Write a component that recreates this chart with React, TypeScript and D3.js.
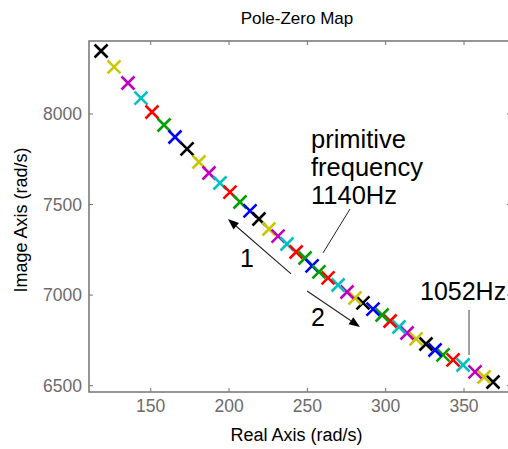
import React from "react";
import * as d3 from "d3";

// ---- data ----
const colorCycle = ["#000000", "#c8c800", "#bf00bf", "#00c0c0", "#ff0000", "#00a000", "#0000ff"];
// branch 1: from top-left going down
const branch1Real = [118.3, 126.6, 135.5, 143.8, 150.8, 158.5, 165.5, 173.2, 180.8, 187.2, 194.2, 200.6, 207.0, 213.4, 219.1, 225.5, 231.3, 237.0, 242.8, 248.5, 253.0];
const branch1Imag = [8348, 8260, 8171, 8088, 8011, 7939, 7873, 7807, 7735, 7674, 7619, 7569, 7514, 7465, 7420, 7365, 7326, 7282, 7238, 7205, 7161];
// branch 2: from bottom-right going up
const branch2Real = [368.5, 362.8, 357.0, 349.4, 343.0, 336.6, 331.5, 325.7, 319.4, 313.6, 308.5, 302.8, 297.7, 291.9, 285.5, 280.4, 275.3, 269.6, 263.2, 257.4];
const branch2Imag = [6520, 6548, 6576, 6614, 6642, 6670, 6697, 6730, 6758, 6791, 6824, 6857, 6890, 6923, 6957, 6984, 7017, 7056, 7095, 7128];

const xTicks = [150, 200, 250, 300, 350];
const yTicks = [6500, 7000, 7500, 8000];
const xDomain = [110.6, 380];
const yDomain = [6465, 8403];

const title = "Pole-Zero Map";
const xLabel = "Real Axis (rad/s)";
const yLabel = "Image Axis (rad/s)";

export default function App() {
  const W = 508, H = 449;
  const left = 89, top = 41, bottom = 392;
  const x = d3.scaleLinear().domain(xDomain).range([left, left + (xDomain[1] - xDomain[0]) * 1.5665]);
  const y = d3.scaleLinear().domain(yDomain).range([bottom, top]);
  const right = x(xDomain[1]);

  const pts: { re: number; im: number; c: string }[] = [];
  branch1Real.forEach((re, i) => pts.push({ re, im: branch1Imag[i], c: colorCycle[i % 7] }));
  branch2Real.forEach((re, i) => pts.push({ re, im: branch2Imag[i], c: colorCycle[i % 7] }));

  const s = 6.5;
  const font = "'Liberation Sans', Arial, Helvetica, sans-serif";
  const axisColor = "#737373";
  const tickColor = "#6b6b6b";

  const arrow = (x1: number, y1: number, x2: number, y2: number) => {
    const ang = Math.atan2(y2 - y1, x2 - x1);
    const L = 11, w = 4.2;
    const bx = x2 - L * Math.cos(ang), by = y2 - L * Math.sin(ang);
    const px = -Math.sin(ang) * w, py = Math.cos(ang) * w;
    return (
      <g>
        <line x1={x1} y1={y1} x2={bx} y2={by} stroke="#222" strokeWidth={1.1} />
        <path d={`M${x2},${y2}L${bx + px},${by + py}L${bx - px},${by - py}Z`} fill="#000" />
      </g>
    );
  };

  return (
    <svg width={W} height={H} style={{ position: "absolute", left: 0, top: 0, background: "#fff" }} fontFamily={font}>
      <rect width={W} height={H} fill="#fff" />
      {/* title */}
      <text x={297} y={24} textAnchor="middle" fontSize={17} fill="#000">{title}</text>
      {/* axes box */}
      <rect x={left} y={top} width={right - left} height={bottom - top} fill="none" stroke={axisColor} strokeWidth={1.5} />
      {xTicks.map((t) => (
        <g key={"x" + t}>
          <line x1={x(t)} x2={x(t)} y1={bottom} y2={bottom - 4} stroke={axisColor} strokeWidth={1} />
          <line x1={x(t)} x2={x(t)} y1={top} y2={top + 4} stroke={axisColor} strokeWidth={1} />
          <text x={x(t)} y={412} textAnchor="middle" fontSize={17.5} fill={tickColor}>{t}</text>
        </g>
      ))}
      {yTicks.map((t) => (
        <g key={"y" + t}>
          <line x1={left} x2={left + 4} y1={y(t)} y2={y(t)} stroke={axisColor} strokeWidth={1} />
          <line x1={right} x2={right - 4} y1={y(t)} y2={y(t)} stroke={axisColor} strokeWidth={1} />
          <text x={82} y={y(t) + 6} textAnchor="end" fontSize={17.5} fill={tickColor}>{t}</text>
        </g>
      ))}
      <text x={296.5} y={441} textAnchor="middle" fontSize={18} fill="#000">{xLabel}</text>
      <text transform={`translate(27,${220}) rotate(-90)`} textAnchor="middle" fontSize={18} fill="#000">{yLabel}</text>

      {/* annotations */}
      <line x1={x(277.2)} y1={y(7475)} x2={x(260)} y2={y(7233)} stroke="#222" strokeWidth={1} />
      <line x1={x(353.2)} y1={y(6918)} x2={x(353.2)} y2={y(6669)} stroke="#444" strokeWidth={1} />
      {arrow(x(239.6), y(7117), x(199.3), y(7420))}
      {arrow(x(249.8), y(7023), x(283.6), y(6824))}
      <text fontSize={25.5} fill="#000">
        <tspan x={311} y={148}>primitive</tspan>
        <tspan x={311} y={176}>frequency</tspan>
        <tspan x={311} y={204}>1140Hz</tspan>
      </text>
      <text x={420} y={300} fontSize={25} fill="#000">1052Hz</text>
      <text x={247} y={267} textAnchor="middle" fontSize={25} fill="#000">1</text>
      <text x={318} y={326} textAnchor="middle" fontSize={25} fill="#000">2</text>

      {/* poles */}
      {pts.map((p, i) => {
        const cx = x(p.re), cy = y(p.im);
        return (
          <path key={i} d={`M${cx - s},${cy - s}L${cx + s},${cy + s}M${cx - s},${cy + s}L${cx + s},${cy - s}`}
            stroke={p.c} strokeWidth={2.6} fill="none" />
        );
      })}
    </svg>
  );
}
